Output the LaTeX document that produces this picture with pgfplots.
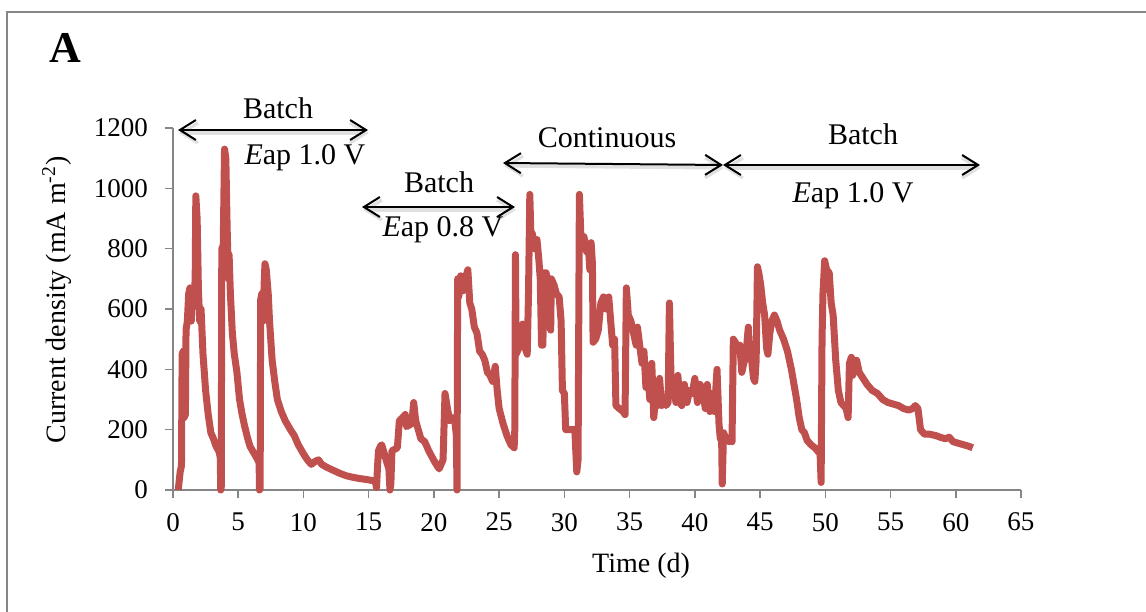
\documentclass[border=0pt]{standalone}
\usepackage{fontspec}
\setmainfont{Liberation Serif}
\usepackage{pgfplots}
\pgfplotsset{compat=1.18}
\usetikzlibrary{arrows.meta}
\definecolor{axgray}{RGB}{134,134,134}
\definecolor{linered}{RGB}{192,80,77}
\begin{document}
\begin{tikzpicture}
\useasboundingbox (0,0) rectangle (573pt,-305.5pt);
% outer frame (only top and left edges are visible)
\draw[axgray, line width=1pt] (3.5pt,-320pt) -- (3.5pt,-6pt) -- (590pt,-6pt);
\begin{axis}[
  at={(86.5pt,-245pt)}, anchor=south west,
  scale only axis, width=424pt, height=181pt,
  xmin=0, xmax=65, ymin=0, ymax=1200,
  clip=false,
  axis x line=bottom, axis y line=left,
  axis line style={-, axgray, line width=0.8pt},
  tick style={axgray, line width=0.8pt},
  tick align=outside, major tick length=4pt,
  xtick={0,5,...,65}, ytick={0,200,...,1200},
  /pgf/number format/assume math mode=true,
  /pgf/number format/1000 sep={},
  tick label style={font=\fontsize{13.5}{15}\selectfont},
  yticklabel style={xshift=-5pt},
  xticklabel style={yshift=-4pt},
  xlabel={Time (d)},
  ylabel={Current density (mA m\textsuperscript{-2})},
  label style={font=\fontsize{14}{16}\selectfont},
  xlabel style={at={(axis description cs:0.552,-0.209)}, anchor=center},
  ylabel style={at={(axis description cs:-0.137,0.525)}, anchor=center},
]
\addplot[linered, line width=3.5pt, line join=round, no markers] coordinates {
(0.4,0) (0.55,60) (0.65,80) (0.7,450) (0.78,460) (0.85,240) (0.95,250) (1.0,530) (1.1,560) (1.2,650) (1.3,670) (1.4,560) (1.5,660) (1.6,620) (1.7,700) (1.75,975) (1.85,900) (1.95,660) (2.05,560) (2.15,600) (2.3,450) (2.5,330) (2.7,250) (2.9,190) (3.1,170) (3.3,145) (3.5,130) (3.62,110) (3.66,0) (3.7,10) (3.74,800) (3.85,810) (3.95,1130) (4.05,1100) (4.15,870) (4.25,700) (4.3,780) (4.4,650) (4.55,520) (4.7,450) (4.9,390) (5.1,300) (5.3,250) (5.5,210) (5.7,175) (5.9,145) (6.1,130) (6.3,115) (6.5,100) (6.6,90) (6.63,0) (6.68,5) (6.72,630) (6.8,650) (6.9,560) (7.0,700) (7.05,750) (7.15,730) (7.3,650) (7.4,560) (7.6,430) (7.8,360) (8.0,300) (8.3,260) (8.6,230) (9.0,200) (9.3,180) (9.6,150) (10.0,120) (10.3,100) (10.6,85) (10.9,95) (11.15,100) (11.4,85) (11.8,75) (12.3,65) (12.8,55) (13.3,47) (13.8,42) (14.3,38) (14.8,35) (15.2,32) (15.5,30) (15.6,8) (15.68,80) (15.75,130) (15.9,145) (16.0,150) (16.2,120) (16.4,90) (16.55,70) (16.63,0) (16.7,20) (16.78,130) (17.0,135) (17.2,140) (17.35,230) (17.6,240) (17.8,250) (17.9,210) (18.1,215) (18.3,220) (18.45,290) (18.6,230) (18.8,200) (19.0,170) (19.3,160) (19.6,130) (19.85,110) (20.1,90) (20.4,70) (20.7,100) (20.85,320) (21.0,280) (21.2,230) (21.4,240) (21.6,230) (21.72,180) (21.77,0) (21.82,700) (21.9,640) (22.05,710) (22.2,660) (22.4,700) (22.6,730) (22.75,620) (22.9,600) (23.1,540) (23.3,520) (23.5,460) (23.7,450) (23.9,430) (24.1,390) (24.3,380) (24.5,360) (24.7,410) (24.85,330) (25.0,270) (25.3,220) (25.6,180) (25.9,150) (26.15,140) (26.2,200) (26.25,780) (26.3,450) (26.5,470) (26.7,500) (26.8,550) (26.9,480) (27.0,470) (27.15,450) (27.25,650) (27.35,980) (27.45,820) (27.55,850) (27.7,800) (27.9,830) (28.05,760) (28.15,700) (28.25,480) (28.35,480) (28.45,720) (28.6,720) (28.75,680) (28.85,550) (28.95,530) (29.0,700) (29.2,680) (29.4,650) (29.6,640) (29.75,560) (29.85,330) (30.0,320) (30.1,200) (30.4,200) (30.8,200) (30.95,60) (31.05,100) (31.15,980) (31.3,800) (31.5,840) (31.7,790) (31.85,800) (31.95,730) (32.05,820) (32.15,750) (32.2,490) (32.4,500) (32.6,530) (32.8,620) (33.0,640) (33.2,600) (33.4,640) (33.55,560) (33.7,480) (33.85,500) (33.95,280) (34.2,270) (34.5,260) (34.65,250) (34.75,670) (34.9,580) (35.1,560) (35.3,520) (35.5,480) (35.6,540) (35.8,470) (35.95,420) (36.1,460) (36.25,340) (36.4,380) (36.55,300) (36.7,420) (36.85,240) (37.0,310) (37.15,280) (37.3,370) (37.45,280) (37.6,300) (37.8,280) (37.95,290) (38.05,620) (38.2,320) (38.4,340) (38.55,290) (38.7,380) (38.85,290) (39.0,280) (39.2,350) (39.4,290) (39.6,330) (39.8,320) (40.0,370) (40.2,290) (40.4,350) (40.6,330) (40.8,270) (40.95,350) (41.15,260) (41.35,320) (41.5,260) (41.7,400) (41.85,220) (41.95,170) (42.05,180) (42.1,20) (42.2,190) (42.4,170) (42.6,160) (42.75,170) (42.85,160) (42.95,500) (43.1,490) (43.3,470) (43.45,480) (43.6,390) (43.75,420) (43.9,440) (44.1,540) (44.2,450) (44.35,430) (44.5,370) (44.6,360) (44.7,430) (44.8,740) (44.9,720) (45.05,680) (45.2,620) (45.35,580) (45.5,470) (45.6,450) (45.75,520) (45.9,560) (46.1,580) (46.3,560) (46.5,530) (46.8,500) (47.1,460) (47.4,400) (47.6,350) (47.8,300) (48.0,240) (48.2,200) (48.4,190) (48.6,165) (48.9,150) (49.2,140) (49.4,130) (49.6,120) (49.68,25) (49.75,500) (49.82,650) (49.95,760) (50.1,730) (50.3,720) (50.45,620) (50.6,580) (50.8,430) (51.0,330) (51.2,290) (51.4,280) (51.6,270) (51.75,240) (51.85,420) (52.0,440) (52.1,380) (52.25,410) (52.4,430) (52.6,390) (52.9,370) (53.2,350) (53.6,330) (54.0,320) (54.4,300) (54.8,290) (55.2,285) (55.6,280) (56.0,270) (56.4,265) (56.7,270) (56.9,280) (57.1,270) (57.3,200) (57.6,185) (58.0,185) (58.5,180) (58.8,175) (59.2,170) (59.5,175) (59.8,160) (60.2,155) (60.6,150) (61.0,145) (61.3,140)
};
\end{axis}
% panel letter
\node[font=\fontsize{22}{24}\selectfont\bfseries] at (32.5pt,-24pt) {A};
% annotation arrows with soft shadows
\tikzset{annarrow/.style={{Straight Barb[length=8pt,width=10pt]}-{Straight Barb[length=8pt,width=10pt]}, line width=1pt, black},
         shadowarrow/.style={annarrow, black!12, line width=1.6pt}}
\draw[shadowarrow] (89.5pt,-66.5pt) -- (184.5pt,-66.5pt);
\draw[shadowarrow] (181.5pt,-105pt) -- (258pt,-105pt);
\draw[shadowarrow] (252pt,-83pt) -- (362pt,-84pt);
\draw[shadowarrow] (362pt,-84pt) -- (490.5pt,-84pt);
\draw[annarrow] (89pt,-65pt) -- (184pt,-65pt);
\draw[annarrow] (181pt,-103.5pt) -- (257.5pt,-103.5pt);
\draw[annarrow] (251.5pt,-81.5pt) -- (361.5pt,-82.5pt);
\draw[annarrow] (361.5pt,-82.5pt) -- (490pt,-82.5pt);
\begin{scope}[every node/.style={font=\fontsize{15}{17}\selectfont, inner sep=0pt}]
\node at (139pt,-54pt) {Batch};
\node at (152.5pt,-79pt) {\textit{E}ap 1.0 V};
\node at (219.5pt,-91pt) {Batch};
\node at (221.5pt,-115pt) {\textit{E}ap 0.8 V};
\node at (303.5pt,-69pt) {Continuous};
\node at (431.5pt,-67pt) {Batch};
\node at (426.5pt,-98pt) {\textit{E}ap 1.0 V};
\end{scope}
\end{tikzpicture}
\end{document}
